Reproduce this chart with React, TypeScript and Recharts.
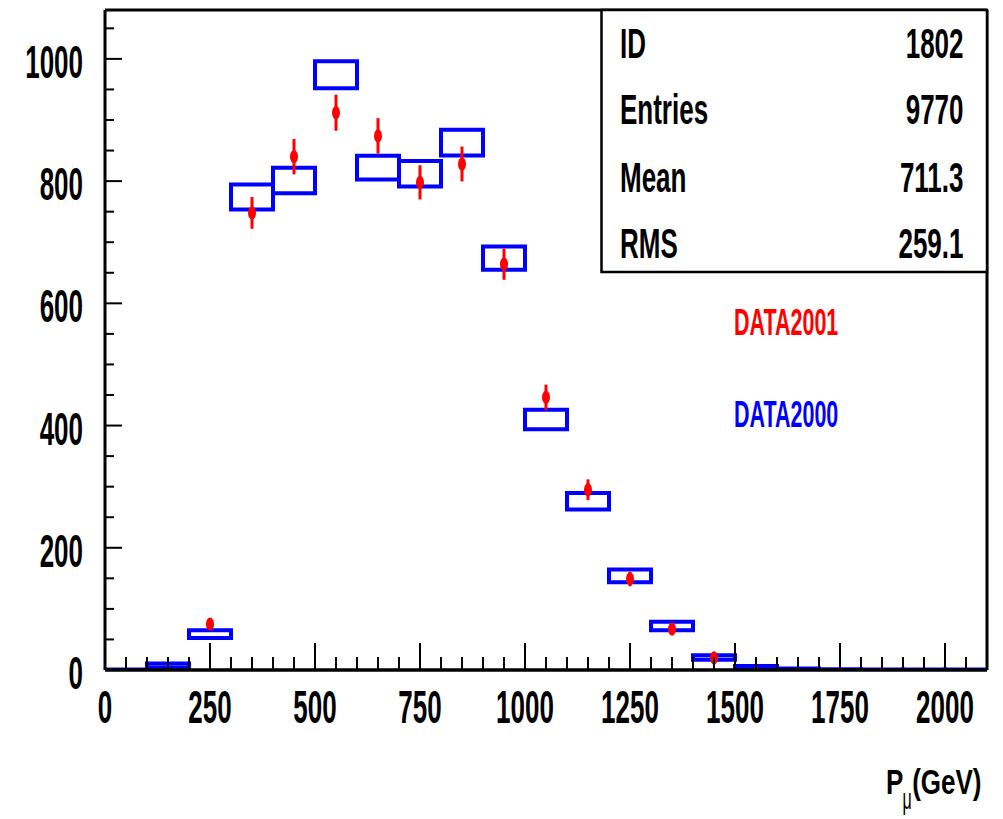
import React from "react";
import { ComposedChart, Bar, Scatter, ErrorBar, XAxis, YAxis, ReferenceLine } from "recharts";

// bin centres, 100 GeV wide bins
const binCenters = [50, 150, 250, 350, 450, 550, 650, 750, 850, 950, 1050, 1150, 1250, 1350, 1450, 1550, 1650, 1750, 1850, 1950, 2050];

// DATA2000 (blue boxes): value and half-height of the box
const data2000Values = [0.5, 7, 58.6, 774, 801, 974, 822, 812, 863, 674, 410, 276, 154, 72, 20.5, 3.3, 1.4, 0.7, 0.4, 0.4, 0.4];
const data2000Errors = [0.5, 3.5, 6.3, 20.5, 21, 22, 19.5, 21, 21, 19, 16, 13.5, 10.4, 7, 3.6, 3.2, 1.2, 0.5, 0.3, 0.3, 0.3];

// DATA2001 (red points with error bars)
const data2001Values = [null, 1, 75, 748, 840, 912, 874, 798, 828, 664, 446, 295, 149, 67, 20, 3, 1, 1, 1, null, null];
const data2001Errors = [null, 1, 8.7, 26, 29, 29.5, 29, 28, 28.5, 25.5, 21, 17, 12, 8, 4.5, 1.7, 1, 1, 1, null, null];

const xMajorTicks = [0, 250, 500, 750, 1000, 1250, 1500, 1750, 2000];
const yMajorTicks = [0, 200, 400, 600, 800, 1000];
const xAllTicks = Array.from({ length: 42 }, (_, i) => i * 50);
const yAllTicks = Array.from({ length: 22 }, (_, i) => i * 50);

const statsLabels = ["ID", "Entries", "Mean", "RMS"];
const statsValues = ["1802", "9770", "711.3", "259.1"];

const boxData = binCenters.map((x, i) => ({
  x,
  blue: [data2000Values[i] - data2000Errors[i], data2000Values[i] + data2000Errors[i]],
}));

const pointData = binCenters
  .map((x, i) => ({ x, y: data2001Values[i], err: data2001Errors[i] }))
  .filter((d) => d.y !== null);

const FONT = "'Liberation Sans', Arial, Helvetica, sans-serif";

const XTick = (props: any) => {
  const { x, y, payload } = props;
  const major = xMajorTicks.includes(payload.value);
  return (
    <g>
      <line x1={x} y1={y} x2={x} y2={y - (major ? 27 : 13)} stroke="#000" strokeWidth={2} />
      {major && (
        <text
          transform={`translate(${x},${y + 53}) scale(1,1.77)`}
          textAnchor="middle"
          fontFamily={FONT}
          fontWeight="bold"
          fontSize={26}
          fill="#000"
        >
          {payload.value}
        </text>
      )}
    </g>
  );
};

const YTick = (props: any) => {
  const { x, y, payload } = props;
  const major = yMajorTicks.includes(payload.value);
  return (
    <g>
      <line x1={x} y1={y} x2={x + (major ? 17 : 9)} y2={y} stroke="#000" strokeWidth={2} />
      {major && (
        <text
          transform={`translate(${x - 22},${y + 19}) scale(1,1.77)`}
          textAnchor="end"
          fontFamily={FONT}
          fontWeight="bold"
          fontSize={26}
          fill="#000"
        >
          {payload.value}
        </text>
      )}
    </g>
  );
};

const RedMarker = (props: any) => {
  const { cx, cy, payload } = props;
  if (payload.y < 5) {
    return <rect x={cx - 1.3} y={cy - 1.3} width={2.6} height={2.6} fill="#ff0000" />;
  }
  return <ellipse cx={cx} cy={cy} rx={4} ry={6.6} fill="#ff0000" />;
};

const rowBaselines = [58.3, 124, 191.7, 258.3];

export default function App() {
  return (
    <div style={{ position: "absolute", left: 0, top: 0, width: 1003, height: 819, background: "#fff" }}>
      <ComposedChart
        width={1003}
        height={819}
        data={boxData}
        margin={{ top: 10, right: 16, bottom: 89, left: 25 }}
        barCategoryGap={0}
        barGap={0}
      >
        <XAxis
          type="number"
          dataKey="x"
          domain={[0, 2100]}
          ticks={xAllTicks}
          interval={0}
          allowDataOverflow
          tickSize={0}
          tickMargin={0}
          tickLine={false}
          axisLine={{ stroke: "#000", strokeWidth: 3.5 }}
          tick={<XTick />}
          height={60}
        />
        <YAxis
          type="number"
          domain={[0, 1080]}
          ticks={yAllTicks}
          interval={0}
          allowDataOverflow
          tickSize={0}
          tickMargin={0}
          tickLine={false}
          axisLine={{ stroke: "#000", strokeWidth: 3 }}
          tick={<YTick />}
          width={80}
        />
        <ReferenceLine y={1080} stroke="#000" strokeWidth={3} />
        <ReferenceLine x={2100} stroke="#000" strokeWidth={3} />
        <Bar dataKey="blue" fill="none" stroke="#0000ff" strokeWidth={4} isAnimationActive={false} />
        <Scatter data={pointData} dataKey="y" shape={<RedMarker />} isAnimationActive={false}>
          <ErrorBar dataKey="err" direction="y" width={0} stroke="#ff0000" strokeWidth={3} isAnimationActive={false} />
        </Scatter>
      </ComposedChart>

      <svg
        width={1003}
        height={819}
        style={{ position: "absolute", left: 0, top: 0, pointerEvents: "none" }}
        fontFamily={FONT}
        fontWeight="bold"
      >
        <rect x={601.5} y={10} width={385.5} height={262} fill="#fff" stroke="#000" strokeWidth={2.5} />
        {statsLabels.map((label, i) => (
          <g key={label}>
            <text transform={`translate(620,${rowBaselines[i]}) scale(1,1.67)`} fontSize={26} fill="#000">
              {label}
            </text>
            <text
              transform={`translate(963.5,${rowBaselines[i]}) scale(1,1.67)`}
              fontSize={26}
              textAnchor="end"
              fill="#000"
            >
              {statsValues[i]}
            </text>
          </g>
        ))}

        <text transform="translate(734,335) scale(1,1.75)" fontSize={21.5} fill="#ff0000">
          DATA2001
        </text>
        <text transform="translate(734,427.3) scale(1,1.75)" fontSize={21.5} fill="#0000ff">
          DATA2000
        </text>

        <text transform="translate(886,793.5) scale(1,1.37)" fontSize={26} fill="#000">
          P
        </text>
        <text transform="translate(902.5,809) scale(1,1.9)" fontSize={16} fontWeight="normal" fill="#000">
          μ
        </text>
        <text transform="translate(981.5,793.5) scale(1,1.37)" fontSize={26} textAnchor="end" fill="#000">
          (GeV)
        </text>
      </svg>
    </div>
  );
}
